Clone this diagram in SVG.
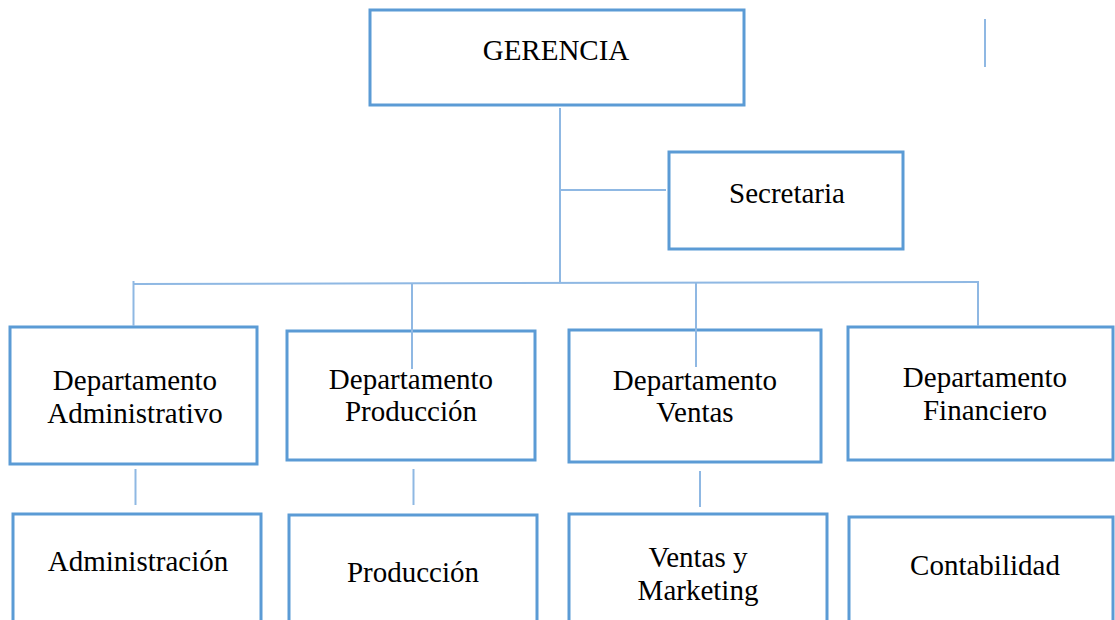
<svg xmlns="http://www.w3.org/2000/svg" width="1115" height="620" viewBox="0 0 1115 620">
<style>
.box{fill:#ffffff;stroke:#5b9bd5;stroke-width:3}
.ln{stroke:#8fb8e3;stroke-width:2;fill:none}
text{font-family:"Liberation Serif","Times New Roman",serif;font-size:29px;fill:#000;text-anchor:middle}
</style>
<rect width="1115" height="620" fill="#ffffff"/>
<g id="n-gerencia"><rect class="box" x="370" y="10" width="374" height="95"/><text x="556" y="60">GERENCIA</text></g>
<g id="n-secretaria"><rect class="box" x="669" y="152" width="234" height="97"/><text x="787" y="203">Secretaria</text></g>
<g id="n-dep-admin"><rect class="box" x="10" y="327" width="247" height="137"/><text x="135" y="390">Departamento</text><text x="135" y="423">Administrativo</text></g>
<g id="n-dep-prod"><rect class="box" x="287" y="331" width="248" height="129"/><text x="411" y="389">Departamento</text><text x="411" y="421">Producción</text></g>
<g id="n-dep-ventas"><rect class="box" x="569" y="330" width="252" height="132"/><text x="695" y="390">Departamento</text><text x="695" y="422">Ventas</text></g>
<g id="n-dep-fin"><rect class="box" x="848" y="327" width="265" height="133"/><text x="985" y="387">Departamento</text><text x="985" y="420">Financiero</text></g>
<g id="n-admin"><rect class="box" x="13" y="514" width="248" height="120"/><text x="138" y="571">Administración</text></g>
<g id="n-prod"><rect class="box" x="289" y="515" width="248" height="120"/><text x="413" y="582">Producción</text></g>
<g id="n-ventas"><rect class="box" x="569" y="514" width="258" height="120"/><text x="698" y="567">Ventas y</text><text x="698" y="600">Marketing</text></g>
<g id="n-contab"><rect class="box" x="849" y="517" width="264" height="120"/><text x="985" y="575">Contabilidad</text></g>
<g id="connectors">
<line class="ln" x1="560" y1="108" x2="560" y2="283"/>
<line class="ln" x1="561" y1="190" x2="666" y2="190"/>
<line class="ln" x1="133" y1="284" x2="978" y2="282"/>
<line class="ln" x1="133.5" y1="281" x2="133.5" y2="326"/>
<line class="ln" x1="412" y1="283" x2="412" y2="369"/>
<line class="ln" x1="696" y1="283" x2="696" y2="367"/>
<line class="ln" x1="978" y1="281" x2="978" y2="326"/>
<line class="ln" x1="135.5" y1="469" x2="135.5" y2="505"/>
<line class="ln" x1="413.5" y1="469" x2="413.5" y2="505"/>
<line class="ln" x1="700" y1="471" x2="700" y2="507"/>
<line class="ln" x1="985" y1="19" x2="985" y2="67"/>
</g>
</svg>
